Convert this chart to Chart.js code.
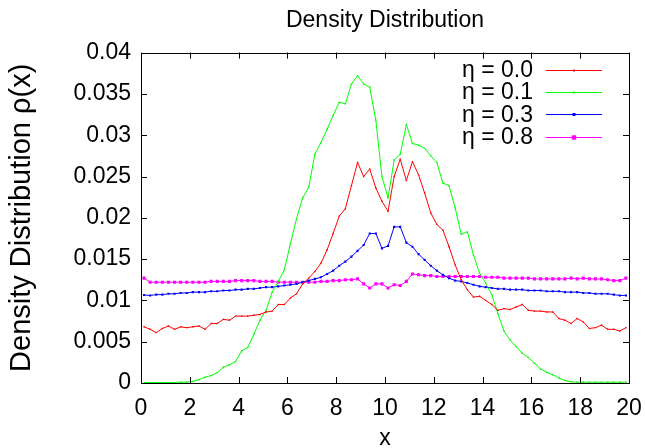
<!DOCTYPE html>
<html>
<head>
<meta charset="utf-8">
<script src="https://cdn.jsdelivr.net/npm/chart.js@4/dist/chart.umd.min.js"></script>
<style>
  html, body { margin: 0; padding: 0; background: #fff; }
  #wrap { width: 645px; height: 448px; }
</style>
</head>
<body>
<div id="wrap"><canvas id="density"></canvas></div>
<script>
// bin centres along x (bins are 0.25 wide)
const binCentres = [
  0.125, 0.375, 0.625, 0.875, 1.125, 1.375, 1.625, 1.875, 2.125, 2.375,
  2.625, 2.875, 3.125, 3.375, 3.625, 3.875, 4.125, 4.375, 4.625, 4.875,
  5.125, 5.375, 5.625, 5.875, 6.125, 6.375, 6.625, 6.875, 7.125, 7.375,
  7.625, 7.875, 8.125, 8.375, 8.625, 8.875, 9.125, 9.375, 9.625, 9.875,
  10.125, 10.375, 10.625, 10.875, 11.125, 11.375, 11.625, 11.875, 12.125, 12.375,
  12.625, 12.875, 13.125, 13.375, 13.625, 13.875, 14.125, 14.375, 14.625, 14.875,
  15.125, 15.375, 15.625, 15.875, 16.125, 16.375, 16.625, 16.875, 17.125, 17.375,
  17.625, 17.875, 18.125, 18.375, 18.625, 18.875, 19.125, 19.375, 19.625, 19.875
];

const etaLabels = ['η = 0.0', 'η = 0.1', 'η = 0.3', 'η = 0.8'];
const etaColors = ['#ff0000', '#00ff00', '#0000ff', '#ff00ff'];

const rhoEta00 = [
  0.0068, 0.0065, 0.0061, 0.0066, 0.0069, 0.0065, 0.0068, 0.0067, 0.0068, 0.0069,
  0.0065, 0.0072, 0.0072, 0.0077, 0.0076, 0.0081, 0.0081, 0.0081, 0.0082, 0.0083,
  0.0086, 0.0087, 0.0095, 0.0095, 0.0103, 0.0108, 0.0120, 0.0127, 0.0135, 0.0145,
  0.0161, 0.0181, 0.0202, 0.0211, 0.0239, 0.0267, 0.0250, 0.0259, 0.0236, 0.0220,
  0.0208, 0.0250, 0.0271, 0.0245, 0.0268, 0.0252, 0.0230, 0.0206, 0.0192, 0.0185,
  0.0165, 0.0143, 0.0125, 0.0113, 0.0104, 0.0105, 0.0100, 0.0095, 0.0088, 0.0090,
  0.0089, 0.0092, 0.0095, 0.0088, 0.0087, 0.0087, 0.0086, 0.0086, 0.0078, 0.0076,
  0.0072, 0.0078, 0.0074, 0.0066, 0.0067, 0.0070, 0.0065, 0.0065, 0.0063, 0.0067
];

const rhoEta01 = [
  0.00005, 0.00005, 0.00005, 0.00005, 0.00005, 0.00005, 0.0001, 0.0001, 0.0002, 0.0004,
  0.0007, 0.0009, 0.00125, 0.0019, 0.0022, 0.0026, 0.0039, 0.0043, 0.0059, 0.0076,
  0.0088, 0.0110, 0.0123, 0.0137, 0.0169, 0.0199, 0.0224, 0.0237, 0.0277, 0.0291,
  0.0307, 0.0324, 0.0340, 0.0338, 0.0362, 0.0372, 0.0362, 0.0358, 0.0318, 0.0250,
  0.0224, 0.0270, 0.0277, 0.0313, 0.0290, 0.0288, 0.0284, 0.0275, 0.0267, 0.0242,
  0.0239, 0.0212, 0.0180, 0.0183, 0.0155, 0.0133, 0.0121, 0.0107, 0.0084, 0.0063,
  0.0052, 0.0044, 0.0036, 0.0031, 0.0024, 0.0017, 0.0013, 0.0010, 0.0006, 0.0003,
  0.00015, 0.0001, 0.0001, 0.0001, 0.0001, 0.0001, 0.0001, 0.0001, 0.0001, 0.0001
];

const rhoEta03 = [
  0.01065, 0.0106, 0.0107, 0.0107, 0.0108, 0.0108, 0.0109, 0.0109, 0.0110, 0.0110,
  0.0110, 0.0111, 0.0111, 0.0112, 0.0112, 0.0113, 0.0113, 0.0114, 0.0114, 0.0115,
  0.0116, 0.0116, 0.0117, 0.0118, 0.0119, 0.0120, 0.0122, 0.0124, 0.0126, 0.0128,
  0.0132, 0.0136, 0.0142, 0.0147, 0.0153, 0.0160, 0.0167, 0.0181, 0.0181, 0.0163,
  0.0166, 0.0189, 0.0189, 0.0170, 0.0165, 0.0156, 0.0149, 0.0142, 0.0136, 0.0131,
  0.0127, 0.0124, 0.0123, 0.0121, 0.0119, 0.0117, 0.0116, 0.0115, 0.0114, 0.0114,
  0.0113, 0.0113, 0.0113, 0.0112, 0.0112, 0.0112, 0.0111, 0.0111, 0.0111, 0.0110,
  0.0110, 0.0110, 0.0109, 0.0109, 0.0108, 0.0108, 0.0108, 0.0107, 0.0106, 0.0106
];

const rhoEta08 = [
  0.0127, 0.0122, 0.0122, 0.0122, 0.0122, 0.0122, 0.0122, 0.0122, 0.0122, 0.0122,
  0.0122, 0.0123, 0.0123, 0.0123, 0.0123, 0.0124, 0.0124, 0.0124, 0.0124, 0.0123,
  0.0123, 0.0123, 0.0122, 0.0122, 0.0122, 0.0122, 0.0122, 0.0122, 0.0122, 0.0123,
  0.0123, 0.0124, 0.0124, 0.0125, 0.0125, 0.0126, 0.0120, 0.0115, 0.0120, 0.0120,
  0.0115, 0.0119, 0.0118, 0.0123, 0.0132, 0.0131, 0.0130, 0.0130, 0.0129, 0.0129,
  0.0129, 0.0129, 0.0129, 0.0129, 0.0129, 0.0129, 0.0128, 0.0128, 0.0128, 0.0127,
  0.0127, 0.0127, 0.0127, 0.0127, 0.0126, 0.0126, 0.0126, 0.0126, 0.0126, 0.0126,
  0.0127, 0.0126, 0.0127, 0.0126, 0.0126, 0.0126, 0.0125, 0.0124, 0.0124, 0.0127
];

const xTicks = [0, 2, 4, 6, 8, 10, 12, 14, 16, 18, 20];
const yTicks = [0, 0.005, 0.01, 0.015, 0.02, 0.025, 0.03, 0.035, 0.04];

const FONT = 'Liberation Sans, Arial, Helvetica, sans-serif';
const TEXT_SIZE = 23;
const TICK_LEN = 6;

// gnuplot-like frame: full border with inward ticks on all four sides
const frameTicks = {
  id: 'frameTicks',
  afterDatasetsDraw(chart) {
    const { ctx, chartArea: a, scales: { x, y } } = chart;
    ctx.save();
    ctx.strokeStyle = '#000';
    ctx.lineWidth = 1;
    ctx.beginPath();
    xTicks.forEach(v => {
      const px = Math.round(x.getPixelForValue(v)) + 0.5;
      ctx.moveTo(px, a.bottom); ctx.lineTo(px, a.bottom - TICK_LEN);
      ctx.moveTo(px, a.top); ctx.lineTo(px, a.top + TICK_LEN);
    });
    yTicks.forEach(v => {
      const py = Math.round(y.getPixelForValue(v)) + 0.5;
      ctx.moveTo(a.left, py); ctx.lineTo(a.left + TICK_LEN, py);
      ctx.moveTo(a.right, py); ctx.lineTo(a.right - TICK_LEN, py);
    });
    ctx.stroke();
    ctx.strokeRect(Math.round(a.left) + 0.5, Math.round(a.top) + 0.5,
      Math.round(a.right - a.left), Math.round(a.bottom - a.top));
    ctx.restore();
  }
};

// key in the upper right: label, then a line sample with its point
const insideKey = {
  id: 'insideKey',
  afterDraw(chart) {
    const { ctx, chartArea: a } = chart;
    ctx.save();
    ctx.font = TEXT_SIZE + 'px ' + FONT;
    ctx.textAlign = 'right';
    ctx.textBaseline = 'middle';
    chart.data.datasets.forEach((ds, i) => {
      const cy = a.top + 17 + i * 22.4;
      ctx.fillStyle = '#000';
      ctx.fillText(ds.label, a.right - 96, cy + 1);
      ctx.strokeStyle = ds.borderColor;
      ctx.lineWidth = 1;
      ctx.beginPath();
      ctx.moveTo(a.right - 83, Math.round(cy) + 0.5);
      ctx.lineTo(a.right - 27, Math.round(cy) + 0.5);
      ctx.stroke();
      const r = ds.pointRadius;
      ctx.fillStyle = ds.borderColor;
      ctx.fillRect(a.right - 55 - r, Math.round(cy) + 0.5 - r, 2 * r, 2 * r);
    });
    ctx.restore();
  }
};

const seriesValues = [rhoEta00, rhoEta01, rhoEta03, rhoEta08];
const pointSizes = [1, 1, 1.5, 2.2];

const datasets = seriesValues.map((vals, i) => ({
  label: etaLabels[i],
  data: vals.map((v, k) => ({ x: binCentres[k], y: v })),
  borderColor: etaColors[i],
  backgroundColor: etaColors[i],
  borderWidth: 1,
  pointStyle: 'rect',
  pointRadius: pointSizes[i],
  pointBorderWidth: 0,
  tension: 0
}));

new Chart(document.getElementById('density'), {
  type: 'line',
  data: { datasets },
  options: {
    responsive: true,
    maintainAspectRatio: false,
    animation: false,
    layout: { padding: { left: 0, right: 16, top: 0, bottom: 0 } },
    plugins: {
      legend: { display: false },
      tooltip: { enabled: false },
      title: {
        display: true,
        text: 'Density Distribution',
        color: '#000',
        fullSize: false,
        font: { family: FONT, size: TEXT_SIZE, weight: 'normal' },
        padding: { top: 7, bottom: 18 }
      }
    },
    scales: {
      x: {
        type: 'linear',
        min: 0,
        max: 20,
        afterBuildTicks: s => { s.ticks = xTicks.map(v => ({ value: v })); },
        afterFit: s => {
          s.height = 65;
          // edge labels may hang past the frame, like the y labels do
          s.paddingLeft = 0;
          s.paddingRight = 0;
        },
        grid: { display: false, drawTicks: false },
        border: { display: false },
        ticks: { padding: 12, color: '#000', maxRotation: 0, font: { family: FONT, size: TEXT_SIZE } },
        title: { display: true, text: 'x', color: '#000', font: { family: FONT, size: TEXT_SIZE }, padding: { top: 0, bottom: -4 } }
      },
      y: {
        min: 0,
        max: 0.04,
        afterBuildTicks: s => { s.ticks = yTicks.map(v => ({ value: v })); },
        afterFit: s => { s.width = 141; },
        grid: { display: false, drawTicks: false },
        border: { display: false },
        ticks: { padding: 10, color: '#000', font: { family: FONT, size: TEXT_SIZE }, callback: v => String(v) },
        title: { display: true, text: 'Density Distribution ρ(x)', color: '#000', font: { family: FONT, size: 29 }, padding: { top: 5, bottom: 0 } }
      }
    }
  },
  plugins: [frameTicks, insideKey]
});
</script>
</body>
</html>
